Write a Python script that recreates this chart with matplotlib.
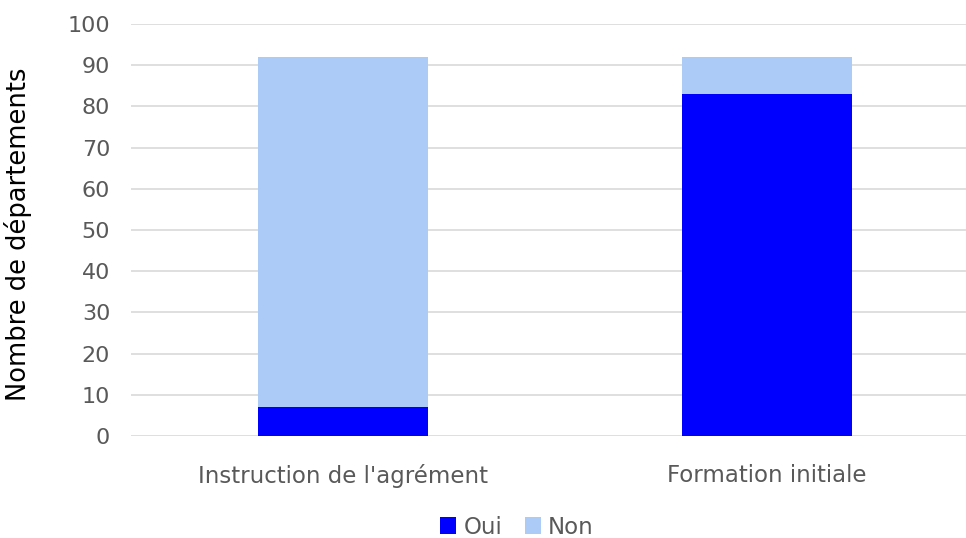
import matplotlib
matplotlib.use("Agg")
import matplotlib.pyplot as plt
import numpy as np

categories = ["Instruction de l'agrément", "Formation initiale"]
oui = [7, 83]
non = [85, 9]
yticks = [0, 10, 20, 30, 40, 50, 60, 70, 80, 90, 100]

plt.rcParams['font.family'] = ['DejaVu Sans']
txt = '#595959'

fig = plt.figure(figsize=(9.66, 5.38), dpi=100)
ax = fig.add_axes([131/966, 1 - 436/538, (966 - 131)/966, (436 - 24)/538])

x = np.arange(len(categories))
w = 0.4
ax.bar(x, oui, w, color='#0000FF', label='Oui', zorder=3)
ax.bar(x, non, w, bottom=oui, color='#ADCBF7', label='Non', zorder=3)

ax.set_ylim(0, 100)
ax.set_xlim(-0.5, -0.5 + (966 - 131) / 424)
ax.set_yticks(yticks)
ax.set_yticklabels([str(v) for v in yticks], fontsize=16, color=txt)
ax.set_xticks(x)
ax.set_xticklabels(categories, fontsize=16.5, color=txt)
ax.tick_params(axis='y', length=0, pad=15)
ax.tick_params(axis='x', length=0, pad=20)
ax.yaxis.grid(True, color='#D9D9D9', linewidth=1.2, zorder=0)
for s in ax.spines.values():
    s.set_visible(False)

ax.set_ylabel("Nombre de départements", fontsize=18.5, color='black')
ax.yaxis.set_label_coords(-99/835, 0.49)

leg = fig.legend(loc='center', bbox_to_anchor=(517/966, 1 - 527/538), ncol=2,
                 frameon=False, fontsize=16.5, handlelength=0.7, handleheight=0.7,
                 handletextpad=0.3, columnspacing=1.0)
for t in leg.get_texts():
    t.set_color(txt)

fig.savefig("out.png", dpi=100)
